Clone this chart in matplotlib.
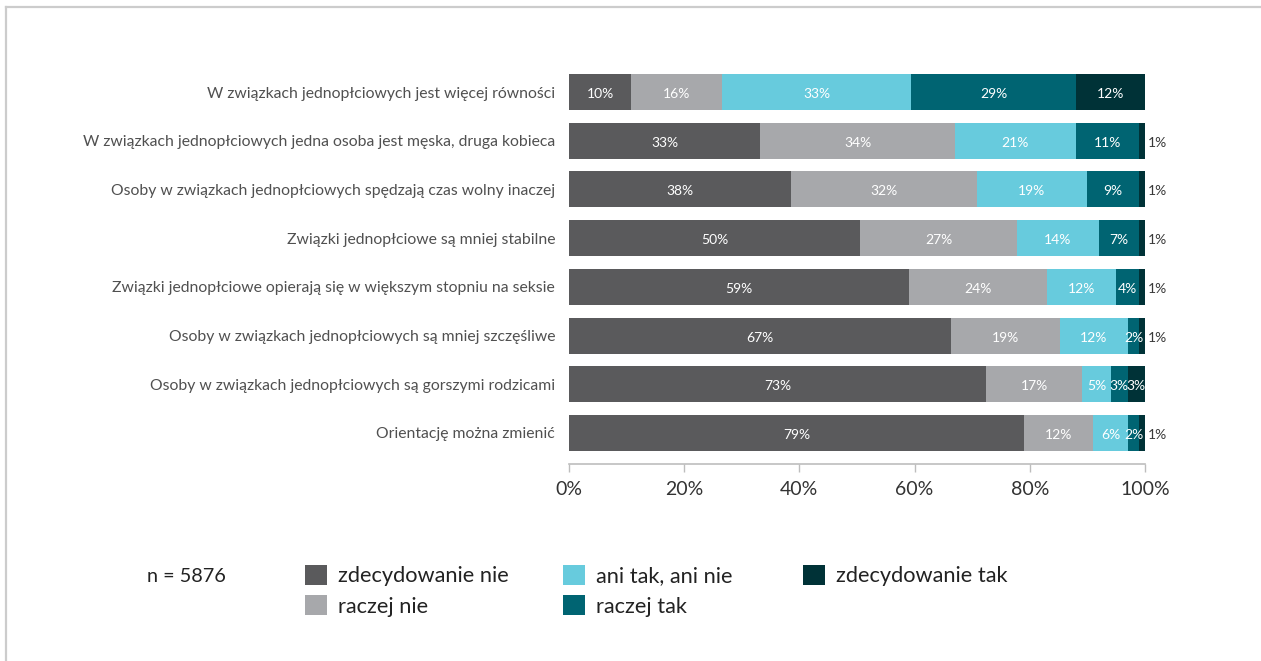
import matplotlib
matplotlib.use("Agg")
import matplotlib.pyplot as plt
from matplotlib.lines import Line2D
from matplotlib.patches import Patch
import numpy as np

plt.rcParams['font.family'] = ['Lato', 'DejaVu Sans']

categories = [
    "W związkach jednopłciowych jest więcej równości",
    "W związkach jednopłciowych jedna osoba jest męska, druga kobieca",
    "Osoby w związkach jednopłciowych spędzają czas wolny inaczej",
    "Związki jednopłciowe są mniej stabilne",
    "Związki jednopłciowe opierają się w większym stopniu na seksie",
    "Osoby w związkach jednopłciowych są mniej szczęśliwe",
    "Osoby w związkach jednopłciowych są gorszymi rodzicami",
    "Orientację można zmienić",
]
series_names = ["zdecydowanie nie", "raczej nie", "ani tak, ani nie", "raczej tak", "zdecydowanie tak"]

# bar widths (%)
zdec_nie = [10.8, 33.2, 38.5, 50.5, 59.0, 66.3, 72.4, 79.0]
raczej_nie = [15.8, 33.8, 32.3, 27.3, 24.0, 18.9, 16.7, 12.0]
ani_tak_ani_nie = [32.8, 21.0, 19.1, 14.2, 12.0, 11.8, 5.0, 6.0]
raczej_tak = [28.6, 11.0, 9.1, 7.0, 4.0, 2.0, 2.9, 2.0]
zdec_tak = [12.0, 1.0, 1.0, 1.0, 1.0, 1.0, 3.0, 1.0]

# printed labels
lab_zdec_nie = [10, 33, 38, 50, 59, 67, 73, 79]
lab_raczej_nie = [16, 34, 32, 27, 24, 19, 17, 12]
lab_ani = [33, 21, 19, 14, 12, 12, 5, 6]
lab_raczej_tak = [29, 11, 9, 7, 4, 2, 3, 2]
lab_zdec_tak = [12, 1, 1, 1, 1, 1, 3, 1]

xticks = [0, 20, 40, 60, 80, 100]
n_text = "n = 5876"

colors = ["#5a5a5c", "#a7a8ab", "#67cbdd", "#006472", "#003237"]

series = [zdec_nie, raczej_nie, ani_tak_ani_nie, raczej_tak, zdec_tak]
labels = [lab_zdec_nie, lab_raczej_nie, lab_ani, lab_raczej_tak, lab_zdec_tak]

W, H = 1261, 661
fig = plt.figure(figsize=(W / 100, H / 100), dpi=100)
ax = fig.add_axes([569 / W, 1 - 464 / H, (1145 - 569) / W, (464 - 60) / H])

y = np.arange(len(categories))
left = np.zeros(len(categories))
handles = []
for vals, labs, col, name in zip(series, labels, colors, series_names):
    vals = np.array(vals)
    ax.barh(y, vals, left=left, height=0.74, color=col, label=name)
    handles.append(Patch(facecolor=col, label=name))
    for i, (v, lab) in enumerate(zip(vals, labs)):
        if lab < 2:
            ax.text(100 + 0.5, y[i] + 0.04, f"{lab}%", ha="left", va="center",
                    fontsize=10, color="#3a3a3a")
        else:
            ax.text(left[i] + v / 2, y[i] + 0.04, f"{lab}%", ha="center", va="center",
                    fontsize=10, color="white")
    left = left + vals

ax.set_xlim(0, 100)
ax.set_ylim(7.637, -0.657)
ax.set_yticks(y)
ax.set_yticklabels(categories, fontsize=11.3, color="#505050")
ax.tick_params(axis="y", length=0, pad=10)
ax.set_xticks(xticks)
ax.set_xticklabels([f"{t}%" for t in xticks], fontsize=14, color="#333333")
ax.tick_params(axis="x", length=6, color="#bdbdbd", width=1, pad=6)
for s in ["top", "right", "left"]:
    ax.spines[s].set_visible(False)
ax.spines["bottom"].set_color("#bdbdbd")
ax.spines["bottom"].set_linewidth(1.2)

# frame lines
fig.add_artist(Line2D([6 / W, 1], [1 - 7 / H, 1 - 7 / H], color="#cccccc", lw=1.6,
                      transform=fig.transFigure))
fig.add_artist(Line2D([6 / W, 6 / W], [0, 1 - 7 / H], color="#cccccc", lw=1.6,
                      transform=fig.transFigure))

fig.text(147 / W, 1 - 576 / H, n_text, fontsize=14.3, color="#222222", ha="left", va="center")

col_x = [305, 563, 803]
groups = [[0, 1], [2, 3], [4]]
for cx, g in zip(col_x, groups):
    leg = fig.legend(handles=[handles[k] for k in g], loc="upper left",
                     bbox_to_anchor=(cx / W, 1 - 565 / H), frameon=False,
                     fontsize=15.7, handlelength=1.0, handleheight=1.0,
                     handletextpad=0.5, labelspacing=0.42, borderpad=0,
                     borderaxespad=0)
    for t in leg.get_texts():
        t.set_color("#222222")

fig.savefig("out.png", dpi=100)
